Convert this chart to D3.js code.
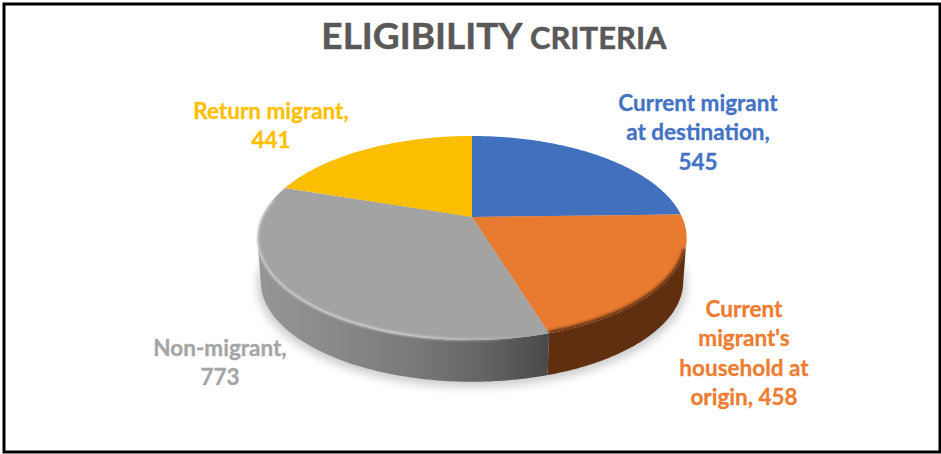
<!DOCTYPE html>
<html>
<head>
<meta charset="utf-8">
<script src="https://cdn.jsdelivr.net/npm/d3@7"></script>
<style>
html,body{margin:0;padding:0;background:#fff}
svg{display:block}
text{font-family:Lato,"Open Sans",sans-serif;font-weight:700;stroke-linejoin:round}
</style>
</head>
<body>
<svg id="chart" width="941" height="454"></svg>
<script>
const categories = ["Current migrant at destination", "Current migrant's household at origin", "Non-migrant", "Return migrant"];
const values = [545, 458, 773, 441];
const topColors = ["#4170BE", "#E87B30", "#A3A3A3", "#FBBE00"];
const sideColors = ["#2A4474", "#5F2F10", "#777777", "#997300"];
const labelColors = ["#4472C4", "#ED7D31", "#A5A5A5", "#FFC000"];
const labelLines = [
  ["Current migrant", "at destination,", "545"],
  ["Current", "migrant's", "household at", "origin, 458"],
  ["Non-migrant,", "773"],
  ["Return migrant,", "441"]
];
const labelAnchors = [[698, 111], [744, 317], [220, 356], [271, 119]];
const titleParts = [["ELIGIBILITY", 37], [" CRITERIA", 31]];

const width = 941, height = 454;
const svg = d3.select("#chart");
const defs = svg.append("defs");

// Disc tilted in perspective: the back edge is foreshortened against the front.
const cx = 472, cy = 217, rx = 210, ry = 97.7, tilt = 0.206;
const project = (a, r = 1, dy = 0) => {
  const x = Math.sin(a) * r, y = Math.cos(a) * r, w = 1 + tilt * y;
  return [cx + rx * x / w, cy + dy - ry * y / w];
};
const line = d3.line();
const sample = (a0, a1, r, dy, n = 120) =>
  d3.range(n + 1).map(i => project(a0 + (a1 - a0) * i / n, r, dy));

const arcs = d3.pie().sort(null)(values);
const depth = 44, bottomScale = 0.985;
// Angles where the outline reaches its left and right extremes
const sideLimit = Math.acos(-tilt);

const addBlur = (id, dev) => defs.append("filter").attr("id", id)
  .attr("x", "-20%").attr("y", "-20%").attr("width", "140%").attr("height", "140%")
  .append("feGaussianBlur").attr("stdDeviation", dev);
addBlur("shadow", 5);
addBlur("soft", 1.6);
addBlur("softThin", 0.9);

// Ambient shadow under the disc
svg.append("path")
  .attr("d", line(sample(0, 2 * Math.PI, 1.0, depth + 3)) + "Z")
  .attr("fill", "#000").attr("opacity", 0.2).attr("filter", "url(#shadow)");

// Side wall: a horizontal sheen for the grey part, flat for the others
const sideGrad = defs.append("linearGradient").attr("id", "sideGrey")
  .attr("gradientUnits", "userSpaceOnUse").attr("x1", 257).attr("x2", 547).attr("y1", 0).attr("y2", 0);
[[0, "#969696"], [0.25, "#8a8a8a"], [0.55, "#787878"], [0.8, "#626262"], [1, "#494949"]]
  .forEach(([o, c]) => sideGrad.append("stop").attr("offset", o).attr("stop-color", c));

const sides = svg.append("g");
arcs.forEach((d, i) => {
  const from = Math.max(d.startAngle, sideLimit);
  const to = Math.min(d.endAngle, 2 * Math.PI - sideLimit);
  if (to <= from) return;
  const front = sample(from, to, 1, 0);
  const back = sample(to, from, bottomScale, depth);
  sides.append("path").attr("d", line(front.concat(back)) + "Z")
    .attr("fill", i === 2 ? "url(#sideGrey)" : sideColors[i]);
});

// Top face
const slicePath = d => line([[cx, cy]].concat(sample(d.startAngle, d.endAngle, 1, 0))) + "Z";
defs.append("clipPath").attr("id", "discClip").append("path")
  .attr("d", line(sample(0, 2 * Math.PI, 1, 0, 240)) + "Z");

svg.append("g").selectAll("path").data(arcs).join("path")
  .attr("d", slicePath)
  .attr("fill", (d, i) => topColors[i]);

// Rounded bevel: the orange rim falls off into shade, the grey rim catches the light
svg.append("g").attr("clip-path", "url(#discClip)").append("path")
  .attr("d", line(sample(Math.max(arcs[1].startAngle, 0.6 * Math.PI), arcs[1].endAngle, 1.0, 0)))
  .attr("fill", "none").attr("stroke", "#4a2208").attr("stroke-width", 5)
  .attr("opacity", 0.85).attr("filter", "url(#soft)");

const sheen = defs.append("linearGradient").attr("id", "sheen")
  .attr("gradientUnits", "userSpaceOnUse").attr("x1", 257).attr("x2", 547).attr("y1", 0).attr("y2", 0);
[[0, 0.75], [0.45, 0.9], [0.72, 0.55], [0.92, 0]]
  .forEach(([o, a]) => sheen.append("stop").attr("offset", o).attr("stop-color", "#dcdcdc").attr("stop-opacity", a));
svg.append("path")
  .attr("d", line(sample(arcs[2].startAngle, 1.56 * Math.PI, 0.998, 0)))
  .attr("fill", "none").attr("stroke", "url(#sheen)").attr("stroke-width", 2.2)
  .attr("filter", "url(#softThin)");

// Title
const title = svg.append("text").attr("x", 494).attr("y", 49).attr("text-anchor", "middle")
  .attr("fill", "#595959").attr("stroke", "#595959").attr("stroke-width", 0.5);
titleParts.forEach(([t, s]) => title.append("tspan").attr("font-size", s).attr("xml:space", "preserve").text(t));

// Data labels
labelLines.forEach((lines, i) => {
  const t = svg.append("text").attr("text-anchor", "middle").attr("font-size", 22.5)
    .attr("fill", labelColors[i]).attr("stroke", labelColors[i]).attr("stroke-width", 0.3);
  lines.forEach((l, j) => t.append("tspan")
    .attr("x", labelAnchors[i][0]).attr("y", labelAnchors[i][1] + j * 29.3).text(l));
});

// Outer frame
svg.append("path")
  .attr("d", `M4 4H${width - 1}V${height - 2}H4Z`)
  .attr("fill", "none").attr("stroke", "#000").attr("stroke-width", 3);
</script>
</body>
</html>
